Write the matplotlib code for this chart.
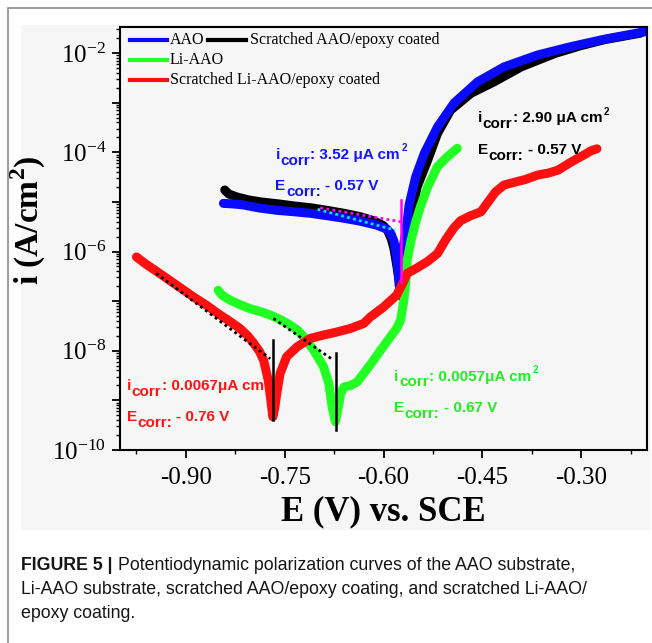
import numpy as np
import matplotlib
matplotlib.use('Agg')
import matplotlib.pyplot as plt
from matplotlib.ticker import LogLocator, FuncFormatter, MultipleLocator, NullFormatter
from matplotlib.patches import Rectangle
from matplotlib.lines import Line2D
from matplotlib.transforms import offset_copy

plt.rcParams['font.family'] = ['Liberation Serif', 'DejaVu Serif']
plt.rcParams['mathtext.fontset'] = 'custom'
plt.rcParams['mathtext.rm'] = 'Liberation Serif'
plt.rcParams['axes.unicode_minus'] = False

# Данные: потенциал E (В) и log10 плотности тока i (A/cm2)
aao_E = [-0.843, -0.830, -0.813, -0.790, -0.762, -0.735, -0.711, -0.685, -0.660,
         -0.635, -0.610, -0.595, -0.589, -0.584, -0.580, -0.576, -0.573, -0.570,
         -0.566, -0.561, -0.551, -0.538, -0.518, -0.493, -0.457, -0.417, -0.366,
         -0.315, -0.264, -0.203]
aao_logi = [-5.03, -5.04, -5.06, -5.12, -5.17, -5.20, -5.23, -5.28, -5.33,
            -5.39, -5.47, -5.55, -5.63, -5.80, -6.10, -6.70, -6.20, -5.90,
            -5.60, -5.05, -4.49, -4.02, -3.49, -3.01, -2.58, -2.28, -2.04,
            -1.87, -1.72, -1.57]

scr_aao_E = [-0.841, -0.835, -0.823, -0.805, -0.787, -0.760, -0.737, -0.710, -0.686,
             -0.660, -0.635, -0.615, -0.600, -0.594, -0.588, -0.584, -0.580, -0.576,
             -0.572, -0.569, -0.565, -0.562, -0.559, -0.549, -0.533, -0.518, -0.498,
             -0.467, -0.432, -0.391, -0.340, -0.300, -0.264, -0.210]
scr_aao_logi = [-4.76, -4.84, -4.90, -4.96, -5.00, -5.04, -5.08, -5.12, -5.17,
                -5.23, -5.30, -5.38, -5.48, -5.57, -5.75, -5.95, -6.27, -6.60,
                -6.91, -6.50, -6.00, -5.70, -5.37, -4.70, -4.16, -3.62, -3.15,
                -2.81, -2.58, -2.28, -2.01, -1.85, -1.73, -1.60]

li_aao_E = [-0.851, -0.845, -0.833, -0.818, -0.803, -0.787, -0.772, -0.757, -0.742,
            -0.731, -0.721, -0.706, -0.691, -0.683, -0.678, -0.673, -0.668, -0.665,
            -0.660, -0.650, -0.640, -0.628, -0.615, -0.605, -0.594, -0.580, -0.574,
            -0.569, -0.566, -0.564, -0.558, -0.551, -0.544, -0.533, -0.518, -0.503,
            -0.488]
li_aao_logi = [-6.78, -6.88, -6.98, -7.07, -7.15, -7.21, -7.28, -7.37, -7.48,
               -7.58, -7.72, -7.99, -8.32, -8.66, -9.13, -9.43, -9.10, -8.86,
               -8.73, -8.70, -8.63, -8.42, -8.19, -8.00, -7.80, -7.55, -7.38,
               -6.98, -6.58, -6.17, -5.77, -5.40, -5.10, -4.70, -4.29, -4.09,
               -3.92]

scr_li_E = [-0.975, -0.960, -0.940, -0.915, -0.889, -0.868, -0.848, -0.833, -0.818,
            -0.806, -0.797, -0.788, -0.782, -0.775, -0.771, -0.768, -0.765, -0.762,
            -0.757, -0.747, -0.731, -0.711, -0.690, -0.670, -0.650, -0.630, -0.620,
            -0.600, -0.580, -0.570, -0.564, -0.549, -0.533, -0.518, -0.505, -0.493,
            -0.483, -0.468, -0.452, -0.440, -0.430, -0.417, -0.400, -0.385, -0.366,
            -0.350, -0.335, -0.318, -0.305, -0.295, -0.285, -0.276]
scr_li_logi = [-6.11, -6.26, -6.44, -6.67, -6.91, -7.09, -7.28, -7.41, -7.55,
               -7.70, -7.85, -8.02, -8.19, -8.59, -9.00, -9.33, -9.15, -8.86,
               -8.46, -8.12, -7.92, -7.75, -7.68, -7.62, -7.55, -7.45, -7.32,
               -7.12, -6.88, -6.62, -6.44, -6.33, -6.20, -6.04, -5.75, -5.52,
               -5.38, -5.28, -5.20, -4.98, -4.80, -4.66, -4.60, -4.55, -4.46,
               -4.42, -4.36, -4.22, -4.12, -4.05, -3.97, -3.93]

# Тафелевские прямые и отметки E_corr
tafel_red_E = [-0.945, -0.772]
tafel_red_logi = [-6.44, -8.16]
tafel_green_E = [-0.767, -0.676]
tafel_green_logi = [-7.35, -8.19]
tafel_mag_E = [-0.696, -0.574]
tafel_mag_logi = [-5.12, -5.40]
tafel_cyan_E = [-0.700, -0.582]
tafel_cyan_logi = [-5.15, -5.57]
ecorr_red_E = -0.767
ecorr_red_logi = [-7.79, -9.40]
ecorr_green_E = -0.672
ecorr_green_logi = [-8.05, -9.60]
ecorr_mag_E = -0.574
ecorr_mag_logi = [-4.96, -6.62]

# подписи: (E, log10 i базовой линии, i_corr, E_corr, цвет)
notes = [
    (-0.764, -4.13, -4.77, '3.52 μA cm', '- 0.57 V', '#1414ff'),
    (-0.457, -3.40, -4.03, '2.90 μA cm', '- 0.57 V', 'black'),
    (-0.990, -8.80, -9.41, '0.0067μA cm', '- 0.76 V', '#ff1414'),
    (-0.584, -8.60, -9.24, '0.0057μA cm', '- 0.67 V', '#22ee22'),
]

BLUE = '#0a0aff'
GREEN = '#22ff22'
RED = '#ff1010'
BG = '#f6f6f6'
SANS = ['Liberation Sans', 'DejaVu Sans']


def cur(logi):
    return [10 ** v for v in logi]


fig = plt.figure(figsize=(6.52, 6.43), dpi=100)
fig.add_artist(Rectangle((21 / 652, 1 - 530 / 643), 630 / 652, 505 / 643,
                         transform=fig.transFigure, facecolor=BG, edgecolor='none', zorder=0))
fig.add_artist(Rectangle((8 / 652, -0.2), 1.2, 1.2 - 8 / 643,
                         transform=fig.transFigure, facecolor='none',
                         edgecolor='#8a8a8a', lw=1.2, zorder=0))

ax = fig.add_axes([120 / 652, 1 - 450 / 643, 527 / 652, 423 / 643])
ax.set_facecolor(BG)

kw = dict(lw=6.5, solid_capstyle='round', solid_joinstyle='round')
ax.plot(scr_aao_E, cur(scr_aao_logi), color='black', **kw)
ax.plot(aao_E, cur(aao_logi), color=BLUE, **kw)
ax.plot(li_aao_E, cur(li_aao_logi), color=GREEN, **kw)
ax.plot(scr_li_E, cur(scr_li_logi), color=RED, **kw)

dots = (0, (1, 1.2))
ax.plot(tafel_red_E, cur(tafel_red_logi), color='black', lw=2, ls=dots)
ax.plot(tafel_green_E, cur(tafel_green_logi), color='black', lw=2, ls=dots)
ax.plot(tafel_cyan_E, cur(tafel_cyan_logi), color='#00e5ff', lw=2, ls=dots)
ax.plot(tafel_mag_E, cur(tafel_mag_logi), color='#ff00ff', lw=2, ls=dots)
ax.plot([ecorr_red_E] * 2, cur(ecorr_red_logi), color='black', lw=1.8)
ax.plot([ecorr_green_E] * 2, cur(ecorr_green_logi), color='black', lw=1.8)
ax.plot([ecorr_mag_E] * 2, cur(ecorr_mag_logi), color='#ff00ff', lw=1.8)

ax.set_yscale('log')
ax.set_xlim(-1.0, -0.2)
ax.set_ylim(1e-10, 10 ** -1.476)

ax.xaxis.set_major_locator(MultipleLocator(0.15))
ax.xaxis.set_minor_locator(MultipleLocator(0.075))
ax.xaxis.set_major_formatter(FuncFormatter(lambda v, p: '%.2f' % v))
ax.yaxis.set_major_locator(LogLocator(base=10, subs=(1.0,), numticks=20))
ax.yaxis.set_minor_locator(LogLocator(base=10, subs=np.arange(2, 10), numticks=20))
ax.yaxis.set_minor_formatter(NullFormatter())


def yfmt(v, p):
    e = int(round(np.log10(v)))
    if e % 2 == 0:
        return r'$\mathregular{10^{%d}}$' % e
    return ''


ax.yaxis.set_major_formatter(FuncFormatter(yfmt))
ax.tick_params(which='major', direction='out', length=6, width=1.3, labelsize=18, pad=4)
ax.tick_params(which='minor', direction='out', length=3, width=1.0)
ax.tick_params(axis='x', which='major', pad=6)
for s in ax.spines.values():
    s.set_linewidth(1.5)

ax.set_xlabel('E (V) vs. SCE', fontsize=25, fontweight='bold', labelpad=5)
ax.set_ylabel('i (A/cm$^\\mathregular{2}$)', fontsize=24, fontweight='bold')
ax.yaxis.set_label_coords(-0.137, 0.544)

# легенда вручную
leg_rows = [(0.969, BLUE, 'AAO'), (0.922, GREEN, 'Li-AAO'),
            (0.875, RED, 'Scratched Li-AAO/epoxy coated')]
for yy, c, t in leg_rows:
    ax.add_line(Line2D([0.019, 0.0886], [yy, yy], transform=ax.transAxes, color=c, lw=3))
    ax.text(0.095, yy, t, transform=ax.transAxes, fontsize=11.5, va='center')
ax.add_line(Line2D([0.167, 0.240], [0.969, 0.969], transform=ax.transAxes, color='black', lw=3))
ax.text(0.247, 0.969, 'Scratched AAO/epoxy coated', transform=ax.transAxes,
        fontsize=11.5, va='center')

renderer = fig.canvas.get_renderer()


def rich(x, logi, parts, color):
    # кусочки текста: (текст, размер, сдвиг по y в pt, отступ слева в pt)
    xo = 0.0
    for txt, size, dy, gap in parts:
        xo += gap
        tr = offset_copy(ax.transData, fig=fig, x=xo, y=dy, units='points')
        t = ax.text(x, 10 ** logi, txt, transform=tr, color=color, fontsize=size,
                    fontweight='bold', family=SANS, va='baseline', ha='left', zorder=6)
        xo += t.get_window_extent(renderer).width * 72 / fig.dpi


for e, yi, ye, itxt, etxt, col in notes:
    rich(e, yi, [('i', 11, 0, 0), ('corr', 11, -4.2, 0.4), (': ' + itxt, 11, 0, 0.3),
                 ('2', 7, 5.5, 0.8)], col)
    rich(e, ye, [('E', 11, 0, 0), ('corr:', 11, -4.2, 0.4), (etxt, 11, 0, 3.2)], col)

# подпись к рисунку
cap = dict(fontsize=12.8, family=SANS, va='center', color='#151515')
t0 = fig.text(21 / 652, 1 - 566 / 643, 'FIGURE 5 |', fontweight='bold', **cap)
bb = t0.get_window_extent(renderer)
fig.text(bb.x1 / 652 + 5 / 652, 1 - 566 / 643,
         'Potentiodynamic polarization curves of the AAO substrate,', **cap)
fig.text(21 / 652, 1 - 590 / 643,
         'Li-AAO substrate, scratched AAO/epoxy coating, and scratched Li-AAO/', **cap)
fig.text(21 / 652, 1 - 614 / 643, 'epoxy coating.', **cap)

fig.savefig('out.png', dpi=100)
